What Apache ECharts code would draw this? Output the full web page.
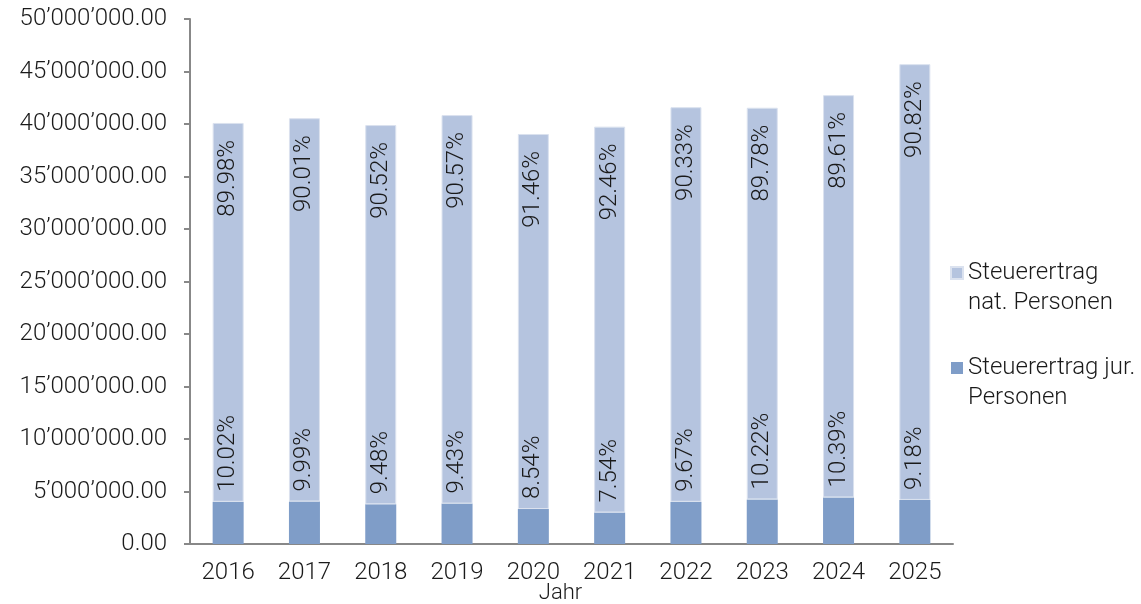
<!DOCTYPE html>
<html>
<head>
<meta charset="UTF-8">
<title>Steuerertrag</title>
<script type="text/javascript" src="https://cdn.jsdelivr.net/npm/echarts@6/dist/echarts.min.js"></script>
<style>
  html, body { margin: 0; padding: 0; background: #fff; }
</style>
</head>
<body>
<div id="main" style="width:1141px;height:604px"></div>

<script type="text/javascript">
	// Jahre
	var years = ['2016', '2017', '2018', '2019', '2020', '2021', '2022', '2023', '2024', '2025'];
	// Steuerertrag jur. Personen (CHF, aus dem Bild geschaetzt)
	var jurValues = [4020000, 4050000, 3780000, 3850000, 3330000, 3000000, 4020000, 4250000, 4440000, 4200000];
	// Steuerertrag nat. Personen
	var natValues = [36080000, 36500000, 36120000, 37000000, 35720000, 36750000, 37580000, 37300000, 38310000, 41500000];
	// Anteile wie beschriftet
	var jurPct = ['10.02%', '9.99%', '9.48%', '9.43%', '8.54%', '7.54%', '9.67%', '10.22%', '10.39%', '9.18%'];
	var natPct = ['89.98%', '90.01%', '90.52%', '90.57%', '91.46%', '92.46%', '90.33%', '89.78%', '89.61%', '90.82%'];

	var fontFam = 'Roboto, "Liberation Sans", sans-serif';

	function fmtAxis(v) {
		var s = Math.round(v).toString().replace(/\B(?=(\d{3})+(?!\d))/g, '\u2019');
		return s + '.00';
	}

	var mychart = echarts.init(document.getElementById("main"));
	var option = {
		textStyle: { fontFamily: fontFam },
		animation: false,
		grid: { left: 190, right: 188, top: 19, bottom: 60, outerBoundsMode: 'none' },
		legend: {
			orient: 'vertical',
			left: 950,
			top: 228,
			padding: 0,
			itemWidth: 12,
			itemHeight: 12,
			itemGap: 5,
			icon: 'rect',
			data: ['Steuerertrag\nnat. Personen', 'Steuerertrag jur.\nPersonen'],
			// leere erste Zeile, damit das Symbol auf Hoehe der ersten Textzeile sitzt
			formatter: function (name) { return ' \n' + name; },
			textStyle: {
				fontFamily: fontFam,
				fontWeight: 300,
				fontSize: 24,
				lineHeight: 30,
				color: '#1a1a1a'
			}
		},
		xAxis: {
			type: 'category',
			data: years,
			name: 'Jahr',
			nameLocation: 'middle',
			nameGap: 38,
			nameMoveOverlap: false,
			nameTextStyle: { fontFamily: fontFam, fontWeight: 300, fontSize: 22, color: '#1a1a1a', padding: [0, 22, 0, 0] },
			axisLine: { lineStyle: { color: '#888', width: 2 } },
			axisTick: { inside: true, length: 6, lineStyle: { color: '#888', width: 2 } },
			axisLabel: { fontFamily: fontFam, fontWeight: 300, fontSize: 24, color: '#1a1a1a', margin: 17 }
		},
		yAxis: {
			type: 'value',
			min: 0,
			max: 50000000,
			interval: 5000000,
			axisLine: { show: true, lineStyle: { color: '#888', width: 2 } },
			axisTick: { show: true, length: 6, lineStyle: { color: '#888', width: 2 } },
			splitLine: { show: false },
			axisLabel: { formatter: fmtAxis, fontFamily: fontFam, fontWeight: 300, fontSize: 24, color: '#1a1a1a', margin: 23 }
		},
		series: [{
			name: 'Steuerertrag jur.\nPersonen',
			type: 'bar',
			stack: 'total',
			barWidth: 31,
			data: jurValues,
			itemStyle: { color: '#7f9dc8' },
			label: {
				show: true,
				position: 'top',
				distance: 10,
				rotate: 90,
				align: 'left',
				verticalAlign: 'middle',
				fontFamily: fontFam,
				fontWeight: 300,
				fontSize: 24,
				color: '#1a1a1a',
				formatter: function (p) { return jurPct[p.dataIndex]; }
			}
		}, {
			name: 'Steuerertrag\nnat. Personen',
			type: 'bar',
			stack: 'total',
			barWidth: 31,
			data: natValues,
			itemStyle: { color: '#b5c4df', borderColor: '#dbe2ef', borderWidth: 1 },
			label: {
				show: true,
				position: 'insideTop',
				distance: 17,
				rotate: 90,
				align: 'right',
				verticalAlign: 'middle',
				fontFamily: fontFam,
				fontWeight: 300,
				fontSize: 24,
				color: '#1a1a1a',
				formatter: function (p) { return natPct[p.dataIndex]; }
			}
		}]
	};
	mychart.setOption(option);
</script>
</body>
</html>
